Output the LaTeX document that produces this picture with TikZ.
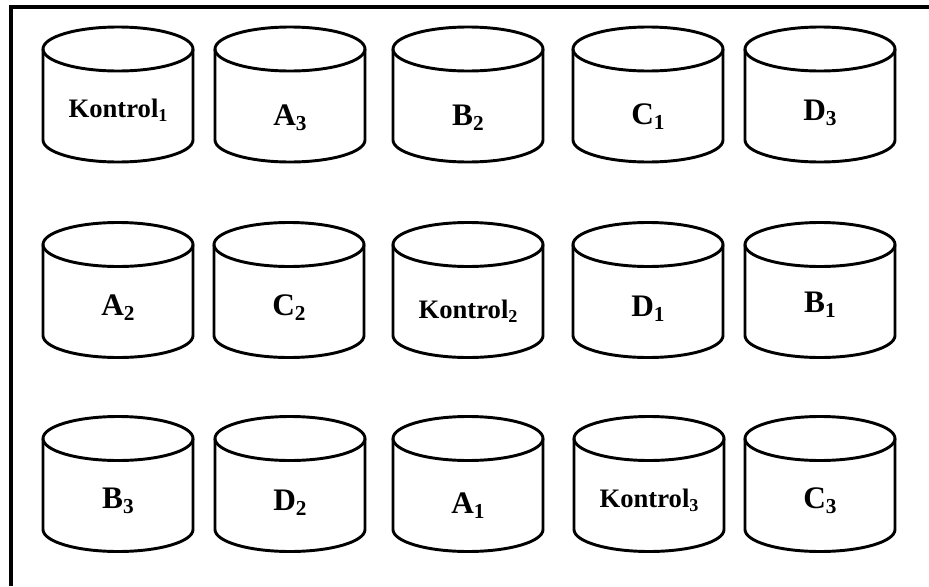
\documentclass[tikz,border=0pt]{standalone}
\usepackage{fontspec}
\setmainfont{Liberation Serif}
\newcommand{\subx}[1]{\raisebox{-0.17em}{\scalebox{0.68}{#1}}}
\newcommand{\cylx}[5]{%
  % #1 name, #2 cx, #3 cy, #4 label baseline y, #5 label
  \draw[cylline] (#2,#3-45.5) ellipse [x radius=75, y radius=22];
  \draw[cylline] (#2-75,#3-45.5) -- (#2-75,#3+45.5)
     arc[start angle=180, end angle=0, x radius=75, y radius=22] -- (#2+75,#3-45.5);
  \node[lbl] (#1) at (#2,#4) {#5};
}
\newcommand{\kfont}{\fontsize{20}{22}\selectfont}
\begin{document}
\begin{tikzpicture}[x=0.75pt,y=-0.75pt,
  cylline/.style={line width=2.2pt, black, line join=round},
  frameline/.style={line width=2.4pt, black},
  lbl/.style={anchor=base, inner sep=0pt, font=\bfseries\fontsize{23.5}{26}\selectfont}]
\useasboundingbox (0,0) rectangle (929,586);
\fill[white] (0,0) rectangle (929,586);
\coordinate (fa) at (11,586);
\coordinate (fb) at (11,7);
\coordinate (fc) at (929,7);
\draw[frameline] (fa) -- (fb) -- (fc);
% row 1
\cylx{k1}{118}{94.5}{117}{\kfont Kontrol\subx{1}}
\cylx{a3}{290}{94.5}{125}{A\subx{3}}
\cylx{b2}{468}{94.5}{125}{B\subx{2}}
\cylx{c1}{648}{94.5}{124}{C\subx{1}}
\cylx{d3}{820}{94.5}{120}{D\subx{3}}
% row 2
\cylx{a2}{118}{290}{315}{A\subx{2}}
\cylx{c2}{289}{290}{315}{C\subx{2}}
\cylx{k2}{468}{290}{318}{\kfont Kontrol\subx{2}}
\cylx{d1}{648}{290}{316}{D\subx{1}}
\cylx{b1}{820}{290}{312}{B\subx{1}}
% row 3
\cylx{b3}{118}{484}{508}{B\subx{3}}
\cylx{d2}{290}{484}{510}{D\subx{2}}
\cylx{a1}{468}{484}{513}{A\subx{1}}
\cylx{k3}{649}{484}{507}{\kfont Kontrol\subx{3}}
\cylx{c3}{820}{484}{508}{C\subx{3}}
\end{tikzpicture}
\end{document}
